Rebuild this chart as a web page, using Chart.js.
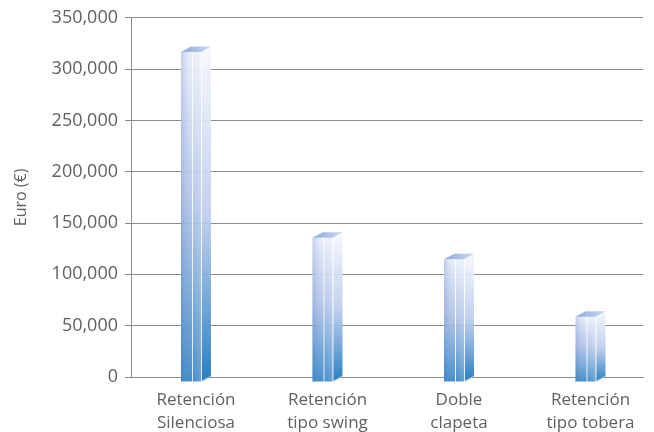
<!DOCTYPE html>
<html>
<head>
<meta charset="utf-8">
<script src="https://cdn.jsdelivr.net/npm/chart.js@4/dist/chart.umd.min.js"></script>
<style>
    html, body { margin: 0; padding: 0; background: #fff; }
    #wrap { width: 654px; height: 432px; }
</style>
</head>
<body>
<div id="wrap"><canvas id="costChart" width="654" height="432"></canvas></div>
<script>
var categories = ["Retención\nSilenciosa", "Retención\ntipo swing", "Doble\nclapeta", "Retención\ntipo tobera"];
var costs = [322000, 141000, 120000, 64000];
var yTicks = [0, 50000, 100000, 150000, 200000, 250000, 300000, 350000];

var textColor = "#616161";
var lineColor = "#8c8c8c";

// draws each bar as a glassy 3d prism, using the bar element positions
var prismPlugin = {
    id: "prism",
    afterDatasetsDraw: function (chart) {
        var ctx = chart.ctx;
        var meta = chart.getDatasetMeta(0);
        var dx = 10, dy = 5.5, fw = 20;
        meta.data.forEach(function (bar) {
            var cx = bar.x, top = bar.y, base = bar.base;
            var x0 = cx - 15, x1 = x0 + fw, x2 = x1 + dx;
            var fTop = top + dy, fBot = base + dy;
            ctx.save();

            // front face
            var g = ctx.createLinearGradient(0, fTop, 0, fBot);
            g.addColorStop(0, "rgba(232,237,249,0.95)");
            g.addColorStop(0.45, "rgba(168,188,229,0.9)");
            g.addColorStop(1, "rgba(44,128,194,1)");
            ctx.fillStyle = g;
            ctx.fillRect(x0, fTop, fw, fBot - fTop);
            var h = ctx.createLinearGradient(x0, 0, x1, 0);
            h.addColorStop(0, "rgba(110,140,205,0.3)");
            h.addColorStop(0.55, "rgba(255,255,255,0.1)");
            h.addColorStop(1, "rgba(255,255,255,0.25)");
            ctx.fillStyle = h;
            ctx.fillRect(x0, fTop, fw, fBot - fTop);

            // side face
            var s = ctx.createLinearGradient(0, top, 0, fBot);
            s.addColorStop(0, "rgba(246,248,253,0.95)");
            s.addColorStop(0.5, "rgba(188,204,236,0.9)");
            s.addColorStop(1, "rgba(40,126,194,1)");
            ctx.fillStyle = s;
            ctx.beginPath();
            ctx.moveTo(x1, fTop);
            ctx.lineTo(x2, top);
            ctx.lineTo(x2, base);
            ctx.lineTo(x1, fBot);
            ctx.closePath();
            ctx.fill();

            // top face
            var t = ctx.createLinearGradient(x0, 0, x2, 0);
            t.addColorStop(0, "rgba(140,165,218,0.95)");
            t.addColorStop(1, "rgba(200,214,240,0.95)");
            ctx.fillStyle = t;
            ctx.beginPath();
            ctx.moveTo(x0, fTop);
            ctx.lineTo(x0 + dx, top);
            ctx.lineTo(x2, top);
            ctx.lineTo(x1, fTop);
            ctx.closePath();
            ctx.fill();

            // light edges
            ctx.strokeStyle = "rgba(255,255,255,0.85)";
            ctx.lineWidth = 1;
            ctx.beginPath();
            ctx.moveTo(x1 + 0.5, fTop);
            ctx.lineTo(x1 + 0.5, fBot);
            ctx.moveTo(x0 + 11.5, fTop);
            ctx.lineTo(x0 + 11.5, fBot);
            ctx.stroke();
            ctx.strokeStyle = "rgba(255,255,255,0.5)";
            ctx.beginPath();
            ctx.moveTo(x0, fBot - 0.5);
            ctx.lineTo(x1, fBot - 0.5);
            ctx.lineTo(x2, base - 0.5);
            ctx.stroke();
            ctx.restore();
        });
    }
};

var ctx = document.getElementById("costChart").getContext("2d");
var costChart = new Chart(ctx, {
    type: "bar",
    data: {
        datasets: [{
            data: costs.map(function (v, i) { return { x: i, y: v }; }),
            backgroundColor: "rgba(0,0,0,0)",
            borderWidth: 0
        }]
    },
    options: {
        responsive: false,
        animation: false,
        events: [],
        layout: { padding: { top: 16, right: 11, left: 12, bottom: 0 } },
        plugins: {
            legend: { display: false },
            tooltip: { enabled: false }
        },
        scales: {
            x: {
                type: "linear",
                offset: false,
                min: -0.494,
                max: 3.399,
                grid: { display: false, drawTicks: false },
                border: { display: true, color: lineColor, width: 1 },
                afterBuildTicks: function (scale) {
                    scale.ticks = categories.map(function (c, i) { return { value: i }; });
                },
                afterFit: function (scale) { scale.height = 55; },
                ticks: {
                    color: textColor,
                    font: { family: "Open Sans", size: 17, lineHeight: 1.33 },
                    padding: 12,
                    maxRotation: 0,
                    autoSkip: false,
                    callback: function (value) { return categories[value].split("\n"); }
                }
            },
            y: {
                min: 0,
                max: 350000,
                afterBuildTicks: function (scale) {
                    scale.ticks = yTicks.map(function (v) { return { value: v }; });
                },
                afterFit: function (scale) { scale.width = 119; },
                grid: { color: lineColor, lineWidth: 1, tickLength: 6, drawTicks: true },
                border: { display: true, color: lineColor, width: 1 },
                title: {
                    display: true,
                    text: "Euro (€)",
                    color: textColor,
                    font: { family: "Open Sans", size: 16 },
                    padding: { top: 0, bottom: 0 }
                },
                ticks: {
                    color: textColor,
                    font: { family: "Open Sans", size: 18 },
                    padding: 7,
                    callback: function (value) { return value.toLocaleString("en-US"); }
                }
            }
        }
    },
    plugins: [prismPlugin]
});
</script>
</body>
</html>
